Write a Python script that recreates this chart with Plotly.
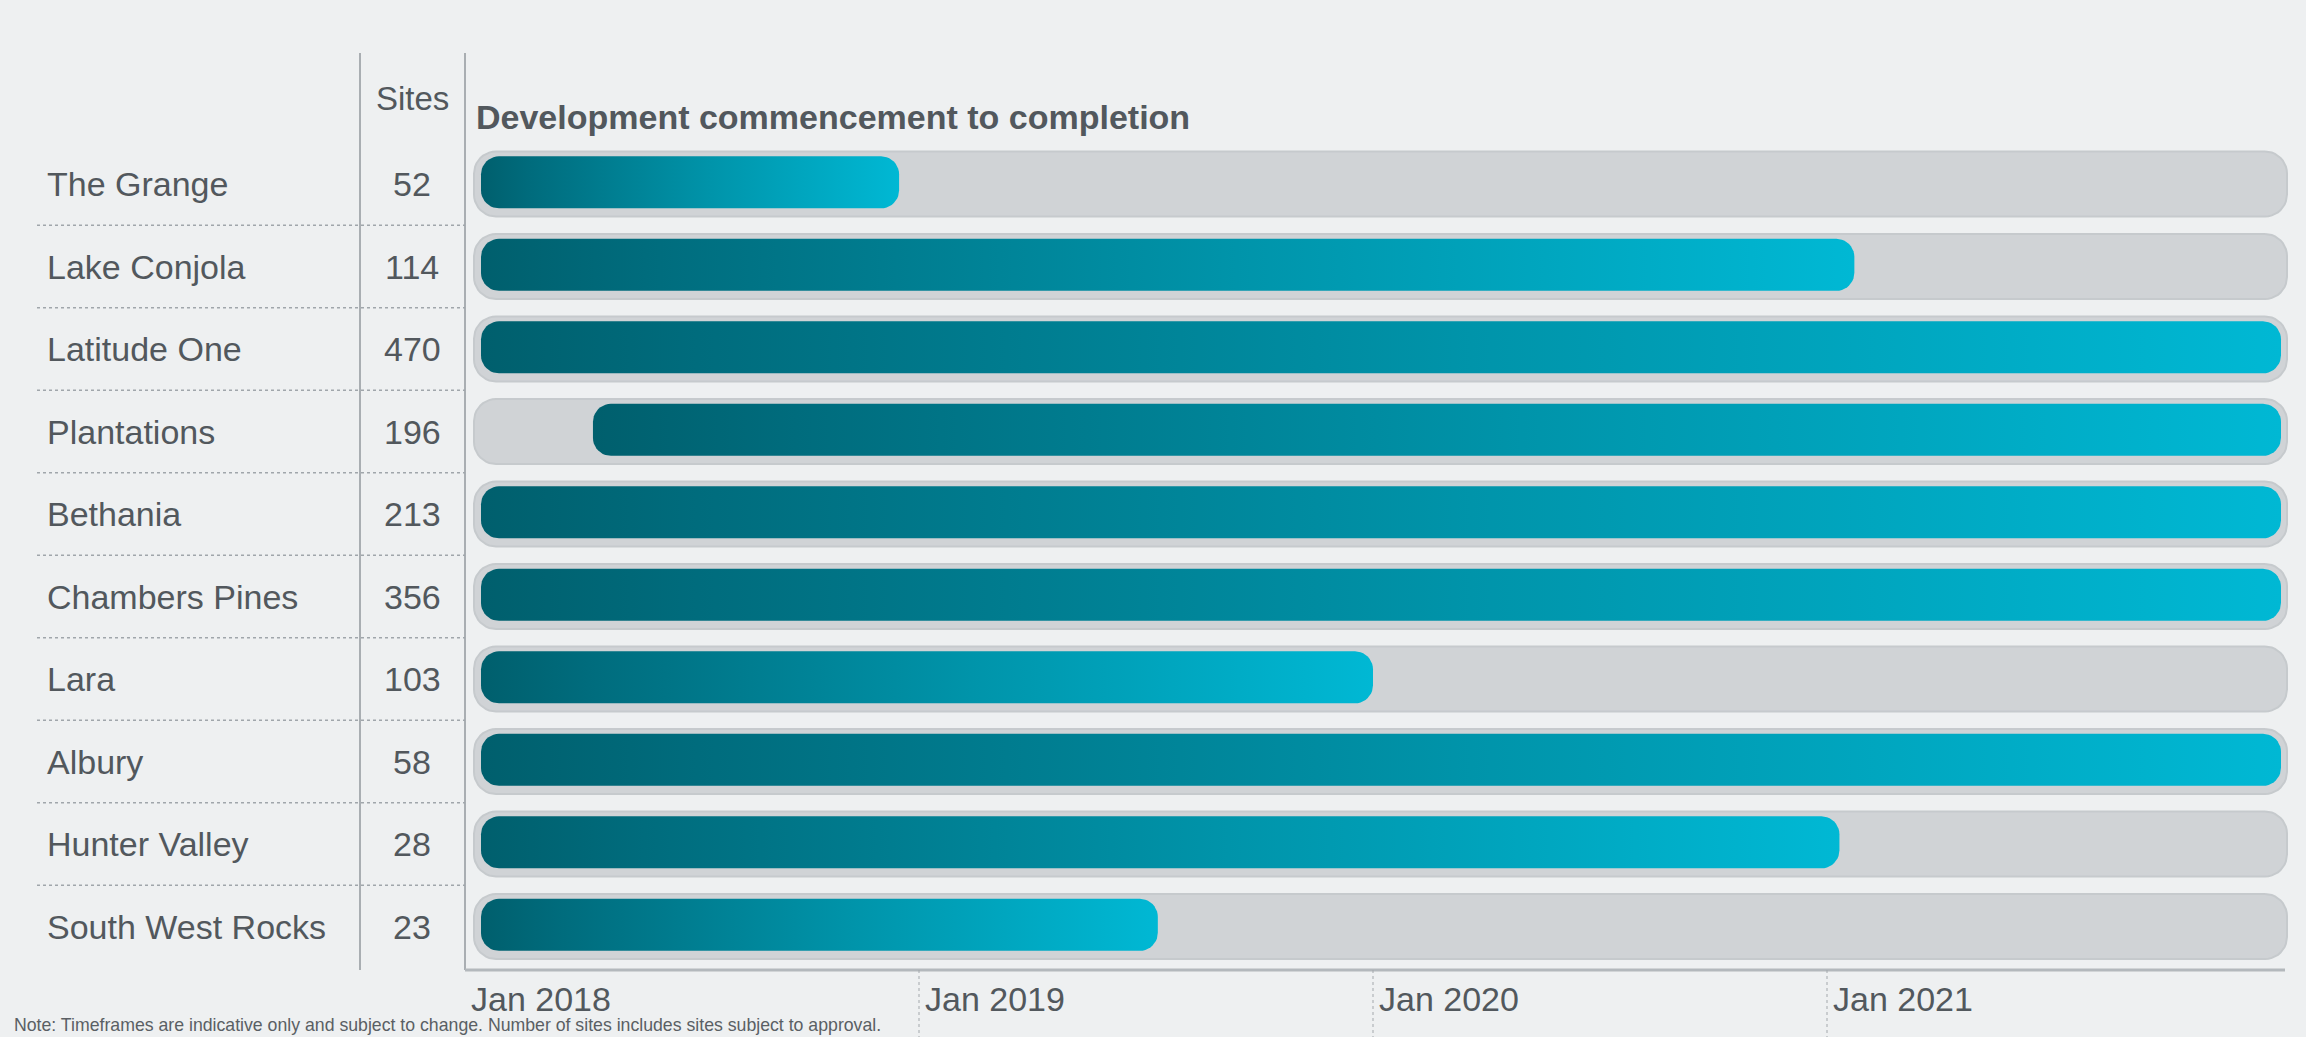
import math
import pandas as pd
import plotly.graph_objects as go

# ---------------- data ----------------
projects = ["The Grange", "Lake Conjola", "Latitude One", "Plantations", "Bethania",
            "Chambers Pines", "Lara", "Albury", "Hunter Valley", "South West Rocks"]
sites = [52, 114, 470, 196, 213, 356, 103, 58, 28, 23]
start_dates = ["2018-01-01", "2018-01-01", "2018-01-01", "2018-04-01", "2018-01-01",
               "2018-01-01", "2018-01-01", "2018-01-01", "2018-01-01", "2018-01-01"]
end_dates = ["2018-12-16", "2021-01-23", "2022-01-01", "2022-01-01", "2022-01-01",
             "2022-01-01", "2020-01-01", "2022-01-01", "2021-01-11", "2019-07-12"]
timeline_start = "2018-01-01"
timeline_end = "2022-01-01"
tick_dates = ["2018-01-01", "2019-01-01", "2020-01-01", "2021-01-01"]
tick_labels = ["Jan 2018", "Jan 2019", "Jan 2020", "Jan 2021"]
title_text = "Development commencement to completion"
sites_header = "Sites"
note_text = ("Note: Timeframes are indicative only and subject to change. "
             "Number of sites includes sites subject to approval.")

# ---------------- layout geometry ----------------
W, H = 2306, 1037
ML, MR, MT, MB = 465, 16, 53, 67
PW, PH = W - ML - MR, H - MT - MB
XPX = 454.0      # pixels per year
YPX = 82.5       # pixels per row
ROW0_PX = 184    # pixel y of first row centre


def dec_year(s):
    t = pd.Timestamp(s)
    days = 366 if t.is_leap_year else 365
    return t.year + (t.dayofyear - 1) / days


x_lo = dec_year(timeline_start)
x_range = [x_lo, x_lo + PW / XPX]
y_top = -(ROW0_PX - MT) / YPX
y_range = [y_top + PH / YPX, y_top]


def px_x(p):
    return (p - ML) / PW


def px_y_paper(p):
    return (H - MB - p) / PH


def pill(xa, xb, yc, h_px, r_px, n=10):
    width_px = (xb - xa) * XPX
    r_px = min(r_px, width_px / 2, h_px / 2)
    rx, ry, hh = r_px / XPX, r_px / YPX, h_px / 2 / YPX
    corners = [
        (xb - rx, yc - hh + ry, -90, 0),
        (xb - rx, yc + hh - ry, 0, 90),
        (xa + rx, yc + hh - ry, 90, 180),
        (xa + rx, yc - hh + ry, 180, 270),
    ]
    xs, ys = [], []
    for cx, cy, a0, a1 in corners:
        for k in range(n + 1):
            t = math.radians(a0 + (a1 - a0) * k / n)
            xs.append(cx + rx * math.cos(t))
            ys.append(cy + ry * math.sin(t))
    xs.append(xs[0])
    ys.append(ys[0])
    return xs, ys


FONT = "Liberation Sans, Arial, sans-serif"
TXT = "#52585d"

fig = go.Figure()

# grey background tracks
g0 = dec_year(timeline_start) + 9 / XPX
g1 = dec_year(timeline_end) + 6 / XPX
for i, name in enumerate(projects):
    xs, ys = pill(g0, g1, i, 65, 22)
    fig.add_trace(go.Scatter(x=xs, y=ys, mode="lines", fill="toself",
                             fillcolor="#d0d3d6",
                             line=dict(color="#c6cacd", width=2),
                             hoverinfo="skip", showlegend=False))

# teal gradient bars
teal_scale = [[0.0, "#005f6d"], [0.12, "#006c7d"], [0.55, "#0094aa"], [1.0, "#00b8d4"]]
for i, name in enumerate(projects):
    xa = dec_year(start_dates[i]) + 16 / XPX
    xb = dec_year(end_dates[i])
    xs, ys = pill(xa, xb, i - 0.02, 52, 18)
    fig.add_trace(go.Scatter(x=xs, y=ys, mode="lines", fill="toself",
                             fillgradient=dict(type="horizontal", colorscale=teal_scale),
                             line=dict(width=0, color="rgba(0,0,0,0)"),
                             name=name, hoverinfo="skip", showlegend=False))

shapes = []
# column separator lines
for xp in (360, 465):
    shapes.append(dict(type="line", xref="paper", yref="paper",
                       x0=px_x(xp), x1=px_x(xp), y0=0, y1=1,
                       line=dict(color="#a9aeb2", width=2)))
# bottom axis line
shapes.append(dict(type="line", xref="x", yref="paper",
                   x0=dec_year(timeline_start), x1=dec_year(timeline_end) + 4 / XPX,
                   y0=0, y1=0, line=dict(color="#b3b8bc", width=3)))
# dotted row separators
for i in range(len(projects) - 1):
    shapes.append(dict(type="line", xref="paper", yref="y",
                       x0=px_x(37), x1=0, y0=i + 0.5, y1=i + 0.5,
                       line=dict(color="#a0a6ab", width=1.5, dash="dot")))
# tick dotted lines
for td in tick_dates[1:]:
    xv = dec_year(td)
    shapes.append(dict(type="line", xref="x", yref="paper",
                       x0=xv, x1=xv, y0=0, y1=-1.0,
                       line=dict(color="#a3a8ac", width=1, dash="dot")))

annotations = []
for i, name in enumerate(projects):
    annotations.append(dict(x=px_x(45), y=i, xref="paper", yref="y", text=name,
                            xanchor="left", yanchor="middle", showarrow=False,
                            font=dict(family=FONT, size=34, color=TXT)))
    annotations.append(dict(x=px_x(412), y=i, xref="paper", yref="y", text=str(sites[i]),
                            xanchor="center", yanchor="middle", showarrow=False,
                            font=dict(family=FONT, size=34, color=TXT)))
annotations.append(dict(x=px_x(412), y=(98 - ROW0_PX) / YPX, xref="paper", yref="y",
                        text=sites_header, xanchor="center", yanchor="middle",
                        showarrow=False, font=dict(family=FONT, size=33, color=TXT)))
annotations.append(dict(x=dec_year(timeline_start) + 9 / XPX, y=(117 - ROW0_PX) / YPX,
                        xref="x", yref="y", text="<b>" + title_text + "</b>",
                        xanchor="left", yanchor="middle", showarrow=False,
                        font=dict(family=FONT, size=34, color=TXT)))
for td, tl in zip(tick_dates, tick_labels):
    annotations.append(dict(x=dec_year(td) + 4 / XPX, y=px_y_paper(999),
                            xref="x", yref="paper", text=tl,
                            xanchor="left", yanchor="middle", showarrow=False,
                            font=dict(family=FONT, size=34, color=TXT)))
annotations.append(dict(x=px_x(12), y=px_y_paper(1025), xref="paper", yref="paper",
                        text=note_text, xanchor="left", yanchor="middle", showarrow=False,
                        font=dict(family=FONT, size=17.7, color="#5a5f64")))

fig.update_layout(
    width=W, height=H,
    margin=dict(l=ML, r=MR, t=MT, b=MB, pad=0),
    paper_bgcolor="#eef0f1",
    plot_bgcolor="rgba(0,0,0,0)",
    showlegend=False,
    hovermode=False,
    shapes=shapes,
    annotations=annotations,
    xaxis=dict(range=x_range, visible=False, fixedrange=True),
    yaxis=dict(range=y_range, visible=False, fixedrange=True),
)

fig.write_html("out.html")
